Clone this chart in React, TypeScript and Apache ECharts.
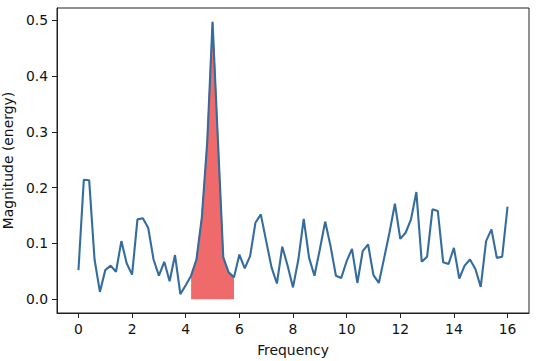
import React, { useEffect, useRef } from "react";
import * as echarts from "echarts";

const frequencies = [
  0.0, 0.2, 0.4, 0.6, 0.8, 1.0, 1.2, 1.4, 1.6, 1.8,
  2.0, 2.2, 2.4, 2.6, 2.8, 3.0, 3.2, 3.4, 3.6, 3.8,
  4.0, 4.2, 4.4, 4.6, 4.8, 5.0, 5.2, 5.4, 5.6, 5.8,
  6.0, 6.2, 6.4, 6.6, 6.8, 7.0, 7.2, 7.4, 7.6, 7.8,
  8.0, 8.2, 8.4, 8.6, 8.8, 9.0, 9.2, 9.4, 9.6, 9.8,
  10.0, 10.2, 10.4, 10.6, 10.8, 11.0, 11.2, 11.4, 11.6, 11.8,
  12.0, 12.2, 12.4, 12.6, 12.8, 13.0, 13.2, 13.4, 13.6, 13.8,
  14.0, 14.2, 14.4, 14.6, 14.8, 15.0, 15.2, 15.4, 15.6, 15.8,
  16.0,
];

const magnitudes = [
  0.052, 0.214, 0.213, 0.071, 0.013, 0.052, 0.060, 0.049, 0.104, 0.064,
  0.044, 0.143, 0.145, 0.128, 0.071, 0.042, 0.067, 0.032, 0.079, 0.009,
  0.025, 0.042, 0.071, 0.146, 0.280, 0.497, 0.285, 0.075, 0.048, 0.039,
  0.080, 0.055, 0.077, 0.137, 0.152, 0.104, 0.057, 0.028, 0.094, 0.060,
  0.021, 0.071, 0.144, 0.074, 0.042, 0.089, 0.139, 0.095, 0.042, 0.038,
  0.068, 0.090, 0.029, 0.086, 0.098, 0.043, 0.029, 0.074, 0.120, 0.171,
  0.108, 0.119, 0.143, 0.192, 0.067, 0.076, 0.161, 0.158, 0.066, 0.063,
  0.092, 0.037, 0.060, 0.071, 0.054, 0.022, 0.104, 0.125, 0.074, 0.076,
  0.166,
];

const bandStart = 4.2;
const bandEnd = 5.8;

const xTicks = [0, 2, 4, 6, 8, 10, 12, 14, 16];
const yTicks = [0.0, 0.1, 0.2, 0.3, 0.4, 0.5];

export default function App() {
  const ref = useRef<HTMLDivElement>(null);

  useEffect(() => {
    if (!ref.current) return;
    document.body.style.margin = "0";
    const chart = echarts.init(ref.current, null, { renderer: "svg" });

    const lineData = frequencies.map((f, i) => [f, magnitudes[i]]);
    const bandData = lineData.filter(
      (d) => d[0] >= bandStart - 1e-9 && d[0] <= bandEnd + 1e-9
    );

    const font = "DejaVu Sans";
    const textColor = "#111";

    chart.setOption({
      animation: false,
      backgroundColor: "#fff",
      grid: {
        left: 57,
        right: 11,
        top: 8,
        bottom: 48,
        containLabel: false,
        outerBoundsMode: "none",
        show: true,
        borderColor: "#222",
        borderWidth: 1,
        backgroundColor: "transparent",
      },
      xAxis: {
        type: "value",
        min: -0.8,
        max: 16.8,
        name: "Frequency",
        nameLocation: "middle",
        nameGap: 30,
        nameTextStyle: { fontFamily: font, fontSize: 13.9, color: textColor },
        axisLine: { show: true, onZero: false, lineStyle: { color: "#222", width: 1 } },
        axisTick: {
          show: true,
          inside: false,
          length: 5,
          customValues: xTicks,
          lineStyle: { color: "#222", width: 1 },
        },
        axisLabel: {
          customValues: xTicks,
          margin: 9,
          fontFamily: font,
          fontSize: 13.9,
          color: textColor,
          formatter: (v: number) => String(v),
        },
        splitLine: { show: false },
      },
      yAxis: {
        type: "value",
        min: -0.02485,
        max: 0.52185,
        name: "Magnitude (energy)",
        nameLocation: "middle",
        nameGap: 37,
        nameTextStyle: { fontFamily: font, fontSize: 13.9, color: textColor },
        axisLine: { show: true, onZero: false, lineStyle: { color: "#222", width: 1 } },
        axisTick: {
          show: true,
          inside: false,
          length: 5,
          customValues: yTicks,
          lineStyle: { color: "#222", width: 1 },
        },
        axisLabel: {
          customValues: yTicks,
          margin: 9,
          fontFamily: font,
          fontSize: 13.9,
          color: textColor,
          formatter: (v: number) => v.toFixed(1),
        },
        splitLine: { show: false },
      },
      series: [
        {
          type: "line",
          data: bandData,
          showSymbol: false,
          symbol: "none",
          z: 2,
          lineStyle: { color: "#e35a5a", width: 1.2 },
          areaStyle: { color: "#ef6b6b", opacity: 1, origin: 0 },
        },
        {
          type: "line",
          data: lineData,
          showSymbol: false,
          symbol: "none",
          z: 3,
          lineStyle: { color: "#356c9e", width: 2.1 },
        },
      ],
    });

    return () => chart.dispose();
  }, []);

  return (
    <div
      ref={ref}
      style={{ position: "absolute", left: 0, top: 0, width: 540, height: 361 }}
    />
  );
}
